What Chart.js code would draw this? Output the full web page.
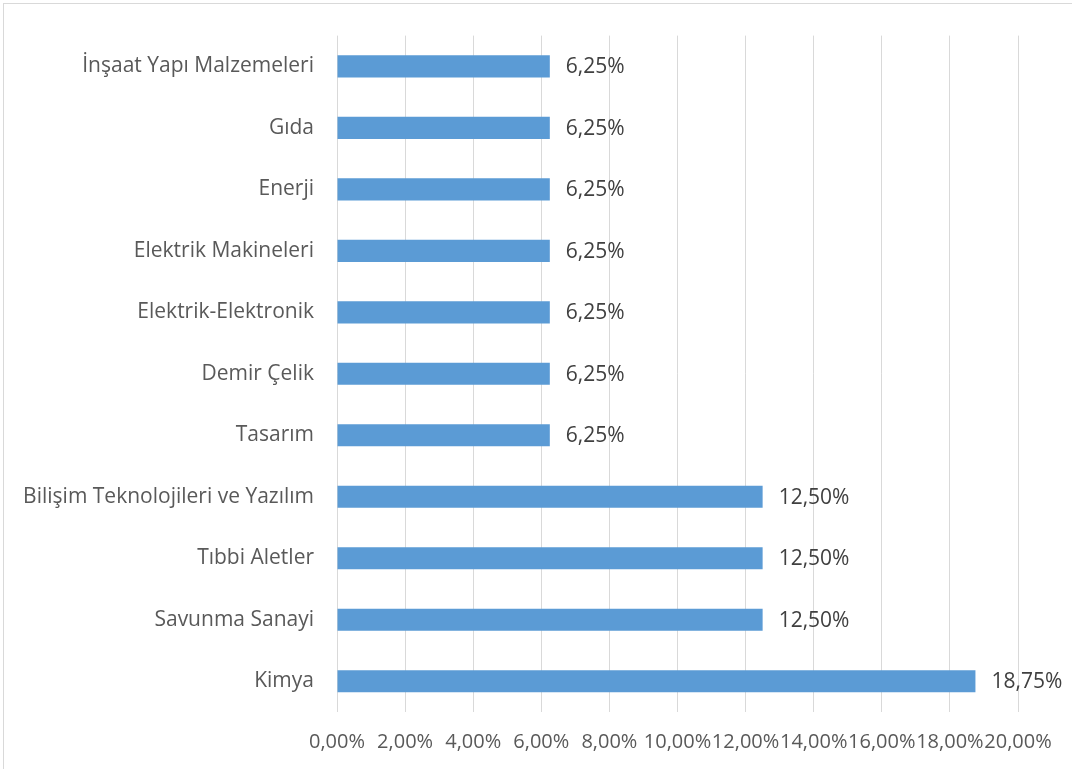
<!DOCTYPE html>
<html><head><meta charset="utf-8">
<script src="https://cdn.jsdelivr.net/npm/chart.js@4/dist/chart.umd.min.js"></script>
<style>html,body{margin:0;padding:0;background:#fff;}#wrap{width:1072px;height:769px;position:relative;}</style>
</head><body><div id="wrap"><canvas id="c" width="1072" height="769"></canvas></div>
<script>
const categories = ["İnşaat Yapı Malzemeleri","Gıda","Enerji","Elektrik Makineleri","Elektrik-Elektronik","Demir Çelik","Tasarım","Bilişim Teknolojileri ve Yazılım","Tıbbi Aletler","Savunma Sanayi","Kimya"];
const values = [6.25,6.25,6.25,6.25,6.25,6.25,6.25,12.5,12.5,12.5,18.75];
const tickStep = 2;
const axisMax = 20;
const fmt = v => v.toFixed(2).replace('.', ',') + '%';

const FONT = '"Open Sans", Lato, sans-serif';

const frame = {
  id:'frame',
  beforeDraw(chart){
    const ctx = chart.ctx;
    ctx.save();
    ctx.fillStyle='#fff';
    ctx.fillRect(0,0,chart.width,chart.height);
    ctx.strokeStyle='#d9d9d9';
    ctx.lineWidth=1;
    ctx.strokeRect(3.5,3.5,chart.width+10,chart.height+10);
    ctx.restore();
  }
};
const dataLabels = {
  id:'dataLabels',
  afterDatasetsDraw(chart){
    const ctx = chart.ctx;
    const meta = chart.getDatasetMeta(0);
    ctx.save();
    ctx.font = '21px ' + FONT;
    ctx.fillStyle = '#404040';
    ctx.textAlign='left';
    ctx.textBaseline='middle';
    meta.data.forEach((bar,i)=>{
      ctx.fillText(fmt(values[i]), bar.x + 16, bar.y + 1);
    });
    ctx.restore();
  }
};

new Chart(document.getElementById('c'), {
  type:'bar',
  data:{labels:categories, datasets:[{data:values, backgroundColor:'#5b9bd5', borderWidth:0, barPercentage:0.36, categoryPercentage:1}]},
  options:{
    indexAxis:'y', responsive:false, animation:false,
    layout:{padding:{left:0,top:31,right:54,bottom:0}},
    plugins:{legend:{display:false}, tooltip:{enabled:false}},
    scales:{
      x:{min:0,max:axisMax,
        grid:{color:'#d9d9d9',drawTicks:false},
        border:{display:false},
        afterFit(s){s.height=57;},
        ticks:{stepSize:tickStep,autoSkip:false,maxRotation:0,padding:18,color:'#595959',font:{family:FONT,size:20},callback:v=>fmt(v)}
      },
      y:{
        grid:{display:false,drawTicks:false},
        border:{display:false},
        afterFit(s){s.width=337;},
        ticks:{padding:23,color:'#595959',font:{family:FONT,size:21}}
      }
    }
  },
  plugins:[frame,dataLabels]
});
</script></body></html>
